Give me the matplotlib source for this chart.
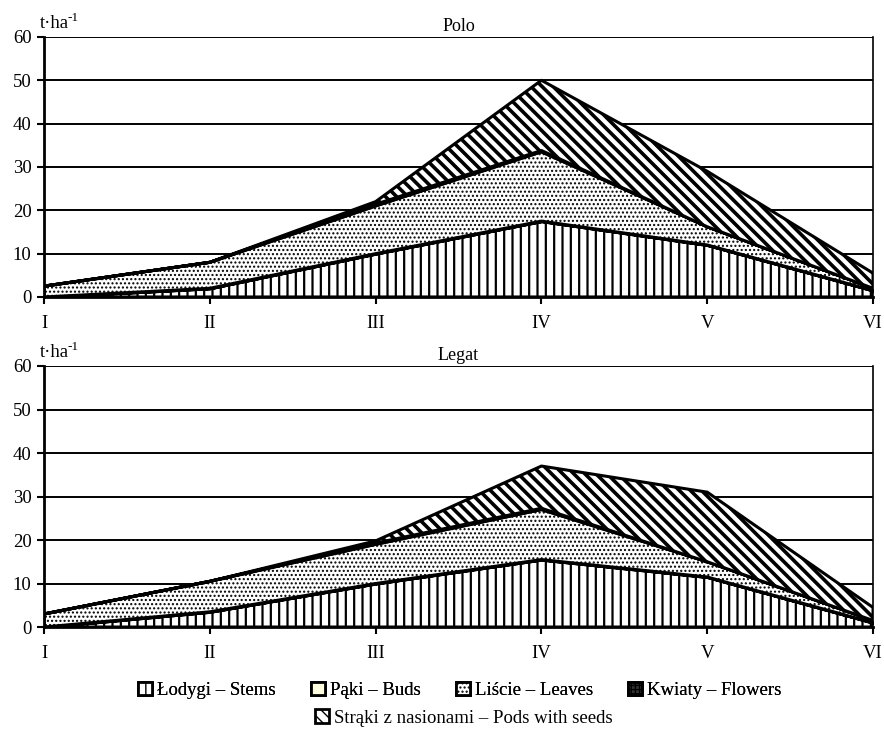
import numpy as np
import matplotlib
matplotlib.use('Agg')
import matplotlib.pyplot as plt
from matplotlib.patches import Patch

# fazy rozwoju
phases = ['I', 'II', 'III', 'IV', 'V', 'VI']

# Polo, t/ha
polo_stems = [0, 2, 10, 17.5, 12, 1.5]
polo_buds = [0, 0, 0, 0, 0, 0]
polo_leaves = [2.5, 6, 11, 16, 4.2, 0.5]
polo_flowers = [0, 0, 0.4, 0.3, 0, 0]
polo_pods = [0, 0, 0.6, 16.2, 12.8, 3.5]

# Legat, t/ha
legat_stems = [0, 3.5, 10, 15.5, 11.5, 1]
legat_buds = [0, 0, 0, 0, 0, 0]
legat_leaves = [3, 7, 9, 11.5, 3.5, 0.5]
legat_flowers = [0, 0, 0.3, 0.3, 0, 0]
legat_pods = [0, 0, 0.5, 9.7, 16, 3]

labels = ['Łodygi – Stems', 'Pąki – Buds', 'Liście – Leaves',
          'Kwiaty – Flowers', 'Strąki z nasionami – Pods with seeds']

styles = [
    dict(facecolor='white', hatch='||', hlw=1.6),
    dict(facecolor='#fffde0', hatch=None, hlw=1.0),
    dict(facecolor='white', hatch='....', hlw=1.0),
    dict(facecolor='#333333', hatch='++++', hlw=0.8),
    dict(facecolor='white', hatch='\\\\\\', hlw=2.6),
]

plt.rcParams['font.family'] = ['Liberation Serif', 'DejaVu Serif']


def draw_panel(ax, series, title):
    x = np.arange(len(phases))
    bottom = np.zeros(len(phases))
    for vals, st in zip(series, styles):
        top = bottom + np.array(vals)
        with plt.rc_context({'hatch.linewidth': st['hlw']}):
            ax.fill_between(x, bottom, top, facecolor=st['facecolor'],
                            hatch=st['hatch'], edgecolor='black',
                            linewidth=2.2, zorder=3)
        bottom = top
    ax.set_xlim(0, len(phases) - 1)
    ax.set_ylim(0, 60)
    ax.set_xticks(x)
    ax.set_xticklabels(phases)
    ax.set_yticks(np.arange(0, 61, 10))
    ax.yaxis.grid(True, color='black', linewidth=1.4, zorder=1)
    ax.set_axisbelow(True)
    ax.spines['top'].set_visible(False)
    for s in ['left', 'bottom', 'right']:
        ax.spines[s].set_linewidth(2)
        ax.spines[s].set_zorder(4)
    ax.spines['right'].set_linewidth(1.2)
    ax.tick_params(direction='out', length=5, width=1.5, labelsize=13.5,
                   pad=4)
    ax.tick_params(axis='x', pad=8)
    ax.set_title(title, fontsize=13, pad=4)
    ax.text(-0.005, 1.02, 't·ha', transform=ax.transAxes,
            fontsize=13.5, ha='left', va='bottom')
    ax.text(0.0285, 1.05, '-1', transform=ax.transAxes,
            fontsize=9.5, ha='left', va='bottom')


fig = plt.figure(figsize=(8.84, 7.32), dpi=100)
ax1 = fig.add_axes([0.0498, 0.5943, 0.9378, 0.3552])
ax2 = fig.add_axes([0.0498, 0.1434, 0.9378, 0.3566])

draw_panel(ax1, [polo_stems, polo_buds, polo_leaves, polo_flowers, polo_pods], 'Polo')
draw_panel(ax2, [legat_stems, legat_buds, legat_leaves, legat_flowers, legat_pods], 'Legat')

handles = []
for lab, st in zip(labels, styles):
    with plt.rc_context({'hatch.linewidth': min(st['hlw'], 1.5)}):
        handles.append(Patch(facecolor=st['facecolor'], hatch=st['hatch'],
                             edgecolor='black', linewidth=2, label=lab))

leg1 = fig.legend(handles=handles[:4], loc='center', ncol=4,
                  bbox_to_anchor=(0.52, 0.057), frameon=False, fontsize=13.5,
                  handlelength=0.75, handleheight=0.75, handletextpad=0.25,
                  columnspacing=1.9)
fig.add_artist(leg1)
fig.legend(handles=handles[4:], loc='center', ncol=1,
           bbox_to_anchor=(0.525, 0.019), frameon=False, fontsize=13.5,
           handlelength=0.75, handleheight=0.75, handletextpad=0.25)

fig.savefig('out.png', dpi=100)
